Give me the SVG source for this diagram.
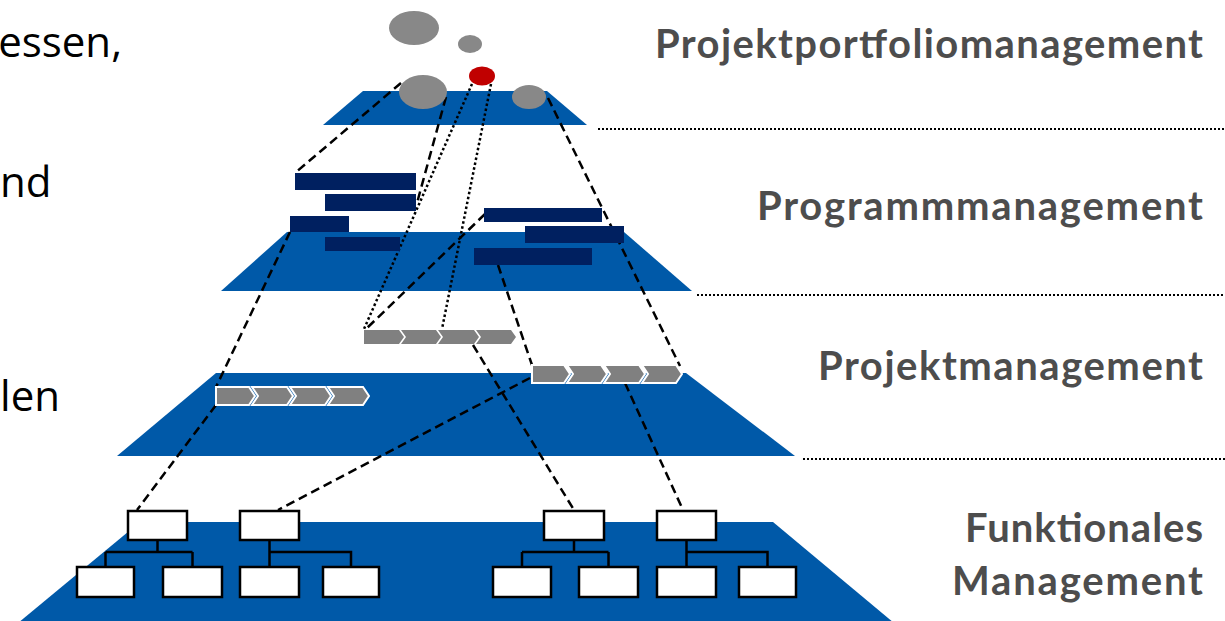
<svg xmlns="http://www.w3.org/2000/svg" width="1225" height="621" viewBox="0 0 1225 621">
<style>
.layer{fill:#0059A8}
.bar{fill:#002060}
.chevA{fill:#808080}
.chev{fill:#808080;stroke:#fff;stroke-width:2;stroke-linejoin:miter}
.ell{fill:#888888}
.box{fill:#fff;stroke:#000;stroke-width:2.5}
.tree{fill:none;stroke:#000;stroke-width:2.5}
.dash{fill:none;stroke:#000;stroke-width:2.5;stroke-dasharray:9 5}
.dot{fill:none;stroke:#000;stroke-width:2.5;stroke-dasharray:2.5 2.5}
.sep{fill:none;stroke:#000;stroke-width:2;stroke-dasharray:2 2}
.lbl{font-family:Lato,"Open Sans","Liberation Sans",sans-serif;font-weight:bold;font-size:40px;fill:#4d4d4d;text-anchor:end}
.side{font-family:"Open Sans","Liberation Sans",sans-serif;font-size:42px;fill:#000;text-anchor:end}
</style>
<rect width="1225" height="621" fill="#fff"/>
<g id="side-texts">
<text class="side" x="122" y="57">essen,</text>
<text class="side" x="0" y="197" style="text-anchor:start">nd</text>
<text class="side" x="60" y="411">len</text>
</g>
<g id="layers">
<polygon id="layer-portfolio" class="layer" points="363,91 547,91 587,125 323,125"/>
<polygon id="layer-programm" class="layer" points="287,232 624,232 692,291 221,291"/>
<polygon id="layer-projekt" class="layer" points="216,373 686,373 795,456 117,456"/>
<polygon id="layer-funktional" class="layer" points="140,522 773,522 900,628 12,628"/>
</g>
<g id="separators">
<line class="sep" x1="598" y1="129" x2="1225" y2="129"/>
<line class="sep" x1="697" y1="295" x2="1225" y2="295"/>
<line class="sep" x1="803" y1="459" x2="1225" y2="459"/>
</g>
<g id="connectors">
<line class="dash" x1="401" y1="83" x2="295" y2="173"/>
<line class="dash" x1="446" y1="97" x2="417" y2="203"/>
<line class="dash" x1="548" y1="98" x2="680" y2="366"/>
<line class="dash" x1="290" y1="232" x2="216" y2="387"/>
<line class="dash" x1="216" y1="405" x2="137" y2="510"/>
<line class="dash" x1="485" y1="214" x2="366" y2="329"/>
<line class="dash" x1="498" y1="265" x2="532" y2="365"/>
<line class="dash" x1="473" y1="345" x2="574" y2="510"/>
<line class="dash" x1="625" y1="383" x2="683" y2="510"/>
<line class="dash" x1="530" y1="378" x2="278" y2="510"/>
<line class="dot" x1="472" y1="84" x2="364" y2="329"/>
<line class="dot" x1="491" y1="84" x2="442" y2="329"/>
<g id="org-lines">
<path class="tree" d="M157.5,540 V552 M105.5,552 H192.5 M105.5,552 V567 M192.5,552 V567"/>
<path class="tree" d="M269.5,540 V567 M269.5,552 H351 V567"/>
<path class="tree" d="M574,540 V552 M522,552 H608.5 M522,552 V567 M608.5,552 V567"/>
<path class="tree" d="M686.5,540 V567 M686.5,552 H767.5 V567"/>
</g>
</g>
<g id="portfolio">
<ellipse class="ell" cx="414" cy="28" rx="25" ry="17"/>
<ellipse class="ell" cx="470" cy="44" rx="12" ry="9"/>
<ellipse cx="482" cy="76" rx="13" ry="9.5" fill="#C00000"/>
<ellipse class="ell" cx="423" cy="92" rx="24" ry="17"/>
<ellipse class="ell" cx="529" cy="97" rx="17" ry="12"/>
</g>
<g id="programme">
<rect class="bar" x="295" y="173" width="121" height="17"/>
<rect class="bar" x="325" y="194" width="91" height="17"/>
<rect class="bar" x="290" y="216" width="59" height="16"/>
<rect class="bar" x="325" y="237" width="75" height="14"/>
<rect class="bar" x="484" y="208" width="118" height="14"/>
<rect class="bar" x="525" y="226" width="99" height="17"/>
<rect class="bar" x="474" y="248" width="118" height="17"/>
</g>
<g id="projekt-a">
<polygon class="chevA" points="364,330 399,330 404,337 399,344 364,344"/>
<polygon class="chevA" points="401,330 436,330 441,337 436,344 401,344 406,337"/>
<polygon class="chevA" points="438,330 474,330 479,337 474,344 438,344 443,337"/>
<polygon class="chevA" points="476,330 511,330 516,337 511,344 476,344 481,337"/>
</g>
<g id="projekt-b">
<polygon class="chev" points="532,365 564,365 570,374 564,383 532,383"/>
<polygon class="chev" points="567,365 601,365 607,374 601,383 567,383 573,374"/>
<polygon class="chev" points="604,365 639,365 645,374 639,383 604,383 610,374"/>
<polygon class="chev" points="642,365 676,365 682,374 676,383 642,383 648,374"/>
</g>
<g id="projekt-c">
<polygon class="chev" points="216,387 249,387 255,396 249,405 216,405"/>
<polygon class="chev" points="252,387 287,387 293,396 287,405 252,405 258,396"/>
<polygon class="chev" points="290,387 325,387 331,396 325,405 290,405 296,396"/>
<polygon class="chev" points="328,387 363,387 369,396 363,405 328,405 334,396"/>
</g>
<g id="org-1">
<rect class="box" x="128" y="511" width="59" height="29"/>
<rect class="box" x="77" y="567" width="57" height="30"/>
<rect class="box" x="163" y="567" width="59" height="30"/>
</g>
<g id="org-2">
<rect class="box" x="240" y="511" width="59" height="29"/>
<rect class="box" x="240" y="567" width="59" height="30"/>
<rect class="box" x="323" y="567" width="56" height="30"/>
</g>
<g id="org-3">
<rect class="box" x="544" y="511" width="60" height="29"/>
<rect class="box" x="493" y="567" width="58" height="30"/>
<rect class="box" x="579" y="567" width="59" height="30"/>
</g>
<g id="org-4">
<rect class="box" x="657" y="511" width="59" height="29"/>
<rect class="box" x="657" y="567" width="59" height="30"/>
<rect class="box" x="739" y="567" width="57" height="30"/>
</g>
<g id="labels">
<text id="lbl-portfolio" class="lbl" x="1203" y="58" textLength="548">Projektportfoliomanagement</text>
<text id="lbl-programm" class="lbl" x="1203" y="220" textLength="446">Programmmanagement</text>
<text id="lbl-projekt" class="lbl" x="1203" y="380" textLength="385">Projektmanagement</text>
<text id="lbl-funktional" class="lbl" x="1203" y="542" textLength="238">Funktionales</text>
<text class="lbl" x="1203" y="595" textLength="251">Management</text>
</g>
</svg>
